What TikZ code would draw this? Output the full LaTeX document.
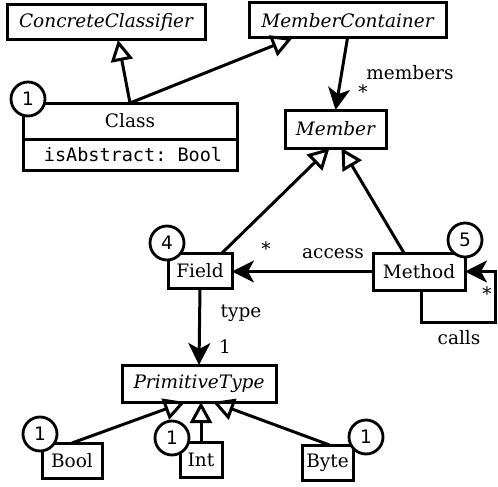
\documentclass[tikz,border=0pt]{standalone}
\usepackage{fontspec}
\setmainfont{DejaVu Serif}
\setmonofont{DejaVu Sans Mono}
\newfontfamily\numfont{DejaVu Sans}
\usetikzlibrary{arrows.meta}
\begin{document}
\begin{tikzpicture}[x=1pt,y=-1pt,
  font=\fontsize{18.5}{22}\selectfont,
  every node/.style={inner sep=0pt, outer sep=0pt},
  cbox/.style={draw, line width=3pt, fill=white, minimum width=#1},
  absname/.style={font=\fontsize{18.5}{22}\selectfont\itshape},
  badge/.style={draw, circle, line width=2.8pt, fill=white, minimum size=34pt, font=\fontsize{18.5}{22}\selectfont\numfont},
  gen/.style={line width=3pt, -{Triangle[open, length=21pt, width=22pt]}},
  assoc/.style={line width=3pt, -{Stealth[length=22pt, width=22pt, inset=6pt]}},
  lbl/.style={font=\fontsize{18.5}{22}\selectfont}
]
\useasboundingbox (0,0) rectangle (498,487);

% boxes
\node[cbox=198pt, minimum height=35pt, absname] (cc) at (106,22.5) {ConcreteClassifier};
\node[cbox=197pt, minimum height=35pt, absname] (mc) at (347.5,20.5) {MemberContainer};
\node[cbox=214pt, minimum height=36pt] (cls) at (130,121) {Class};
\node[cbox=214pt, minimum height=31pt, anchor=north] (clsattr) at (cls.south) {\ttfamily\hspace*{6pt}isAbstract: Bool\hfill};
\node[cbox=101pt, minimum height=38pt, absname] (member) at (335.5,129) {Member};
\node[cbox=64pt, minimum height=35pt] (field) at (200,270.5) {Field};
\node[cbox=92pt, minimum height=37pt] (method) at (419,271.5) {Method};
\node[cbox=154pt, minimum height=37pt, absname] (pt) at (199,383.5) {PrimitiveType};
\node[cbox=60pt, minimum height=35pt] (bool) at (72,460.5) {Bool};
\node[cbox=42pt, minimum height=35pt] (int) at (201,459.5) {Int};
\node[cbox=51pt, minimum height=35pt] (byte) at (327.5,462.5) {Byte};

% generalizations
\draw[gen] (cls.north) -- ([xshift=12pt]cc.south);
\draw[gen] (cls.north) -- ([xshift=-55pt]mc.south);
\draw[gen] ([xshift=22pt]field.north) -- ([xshift=-6pt]member.south);
\draw[gen] ([xshift=-15pt]method.north) -- ([xshift=6pt]member.south);
\draw[gen] (bool.north) -- ([xshift=-14pt]pt.south);
\draw[gen] (int.north) -- ([xshift=2pt]pt.south);
\draw[gen] ([xshift=2pt]byte.north) -- ([xshift=14pt]pt.south);

% associations
\draw[assoc] (mc.south) -- (member.north);
\draw[assoc] (method.west) -- (method.west -| field.east);
\draw[assoc] (field.south) -- (pt.north);
\coordinate (loopA) at ([xshift=2pt, yshift=-32pt]method.south);
\coordinate (loopB) at ([xshift=30pt]method.east);
\draw[assoc] ([xshift=2pt]method.south) -- (loopA) -| (loopB) -- (method.east);

% labels
\node[lbl] (lmembers) at (410,73) {members};
\node[lbl] (smembers) at (363,92) {*};
\node[lbl] (laccess) at (333,254) {access};
\node[lbl] (saccess) at (266,249) {*};
\node[lbl] (scalls) at (487,294) {*};
\node[lbl] (lcalls) at (459,338) {calls};
\node[lbl] (ltype) at (241,313) {type};
\node[lbl] (otype) at (225,347) {1};

% badges
\node[badge] (b1) at (28,99) {1};
\node[badge] (b4) at (167,243) {4};
\node[badge] (b5) at (465,240) {5};
\node[badge] (b6) at (40,434) {1};
\node[badge] (b7) at (172,438) {1};
\node[badge] (b8) at (366,437) {1};
\end{tikzpicture}
\end{document}
